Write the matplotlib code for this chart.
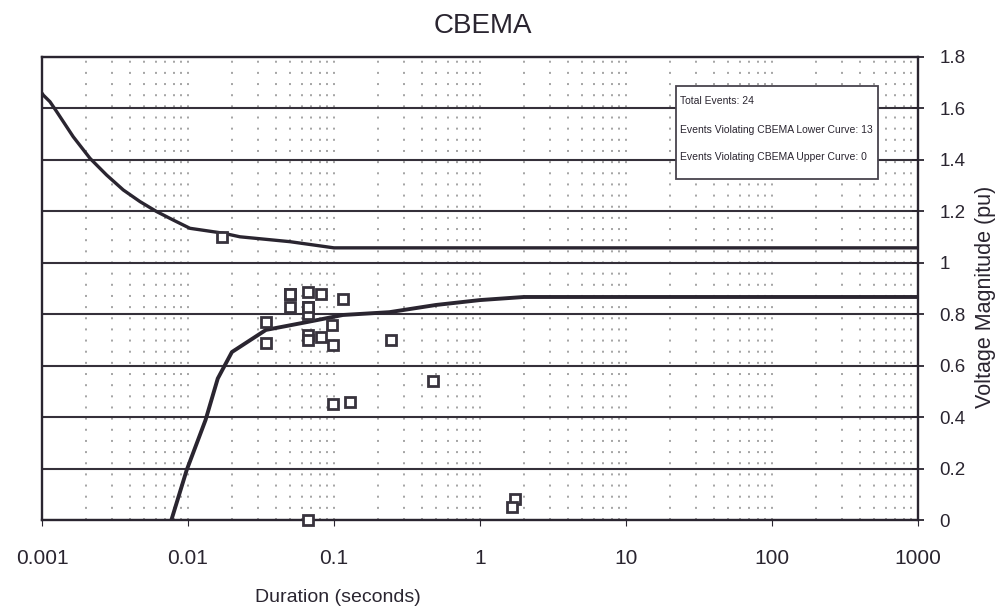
import matplotlib
matplotlib.use("Agg")
import matplotlib.pyplot as plt
from matplotlib.patches import Rectangle
from matplotlib.ticker import LogLocator, NullFormatter
import numpy as np

# CBEMA tolerance envelope (duration in s, voltage in pu)
upper_dur = [0.001, 0.00102, 0.001135, 0.00126, 0.001637, 0.002133, 0.002773, 0.003607,
             0.004688, 0.006103, 0.007935, 0.01032, 0.01745, 0.0227, 0.05, 0.1, 1000]
upper_pu = [1.66, 1.652, 1.626, 1.588, 1.49, 1.406, 1.341, 1.283,
            1.238, 1.199, 1.166, 1.134, 1.115, 1.101, 1.082, 1.058, 1.058]

lower_dur = [0.0077, 0.0098, 0.0132, 0.016, 0.02, 0.0342, 0.066, 0.115, 0.24, 0.5, 1.0, 2.0, 1000]
lower_pu = [0.0, 0.194, 0.389, 0.55, 0.653, 0.739, 0.77, 0.797, 0.808, 0.836, 0.855, 0.867, 0.867]

# Recorded events
event_dur = [0.017, 0.05, 0.066, 0.082, 0.05, 0.066, 0.066, 0.115, 0.034, 0.034,
             0.097, 0.066, 0.066, 0.082, 0.098, 0.244, 0.48, 0.098, 0.129, 1.74,
             1.66, 0.066, 0.05, 0.066]
event_pu = [1.10, 0.88, 0.885, 0.88, 0.83, 0.83, 0.80, 0.86, 0.77, 0.69,
            0.76, 0.72, 0.70, 0.71, 0.68, 0.70, 0.54, 0.45, 0.46, 0.082,
            0.05, 0.0, 0.88, 0.83]

y_ticks = [0, 0.2, 0.4, 0.6, 0.8, 1, 1.2, 1.4, 1.6, 1.8]
y_tick_labels = ["0", "0.2", "0.4", "0.6", "0.8", "1", "1.2", "1.4", "1.6", "1.8"]
x_ticks = [0.001, 0.01, 0.1, 1, 10, 100, 1000]
x_tick_labels = ["0.001", "0.01", "0.1", "1", "10", "100", "1000"]

summary_lines = ["Total Events: 24",
                 "Events Violating CBEMA Lower Curve: 13",
                 "Events Violating CBEMA Upper Curve: 0"]

plt.rcParams['font.family'] = ['Liberation Sans', 'DejaVu Sans']
INK = '#2a2530'

fig = plt.figure(figsize=(10.06, 6.10), dpi=100)
ax = fig.add_axes([0.0417, 0.1475, 0.8708, 0.7591])

ax.set_xscale('log')
ax.set_xlim(0.001, 1000)
ax.set_ylim(0, 1.8)

# dotted vertical grid at every decade step, solid horizontal majors
ax.xaxis.set_minor_locator(LogLocator(base=10, subs=np.arange(2, 10)))
ax.xaxis.set_minor_formatter(NullFormatter())
ax.grid(True, which='both', axis='x', color='#8c8c8c', linestyle=(0, (1.3, 6.0)), linewidth=1.1)
ax.grid(True, which='major', axis='y', color='#35303a', linestyle='-', linewidth=1.5)
ax.set_axisbelow(True)

ax.plot(upper_dur, upper_pu, color=INK, linewidth=2.4, solid_capstyle='butt')
ax.plot(lower_dur, lower_pu, color=INK, linewidth=2.8, solid_capstyle='butt')

ax.plot(event_dur, event_pu, linestyle='none', marker='s', markersize=6.8,
        markerfacecolor='white', markeredgecolor='#38333d', markeredgewidth=2.0,
        clip_on=False, zorder=5)

# axes frame: y axis on the right side
ax.yaxis.tick_right()
ax.set_yticks(y_ticks)
ax.set_yticklabels(y_tick_labels)
ax.set_xticks(x_ticks)
ax.set_xticklabels(x_tick_labels)
ax.tick_params(axis='y', which='major', direction='inout', length=9, width=1.3,
               labelsize=13.5, colors=INK, pad=11)
ax.tick_params(axis='y', which='minor', length=0)
ax.tick_params(axis='x', which='major', direction='out', length=4, width=0.8,
               labelsize=15, colors=INK, pad=17)
ax.tick_params(axis='x', which='minor', length=0)
for side in ['left', 'top', 'right', 'bottom']:
    ax.spines[side].set_color(INK)
    ax.spines[side].set_linewidth(1.7)

fig.text(0.480, 1 - 26 / 610, 'CBEMA', fontsize=20, color=INK, ha='center', va='center')
fig.text(338 / 1006, 1 - 597 / 610, 'Duration (seconds)', fontsize=14, color=INK,
         ha='center', va='center')
fig.text(985 / 1006, 1 - 297 / 610, 'Voltage Magnitude (pu)', fontsize=15.5, color=INK,
         ha='center', va='center', rotation=90)

# event summary box
fig.add_artist(Rectangle((676 / 1006, 1 - 179 / 610), 202 / 1006, 93 / 610,
                         transform=fig.transFigure, facecolor='white',
                         edgecolor='#48434d', linewidth=1.3, zorder=10))
for line, ypix in zip(summary_lines, [101, 130, 157]):
    fig.text(680 / 1006, 1 - ypix / 610, line, fontsize=7.5, color=INK,
             ha='left', va='center', zorder=11)

fig.savefig('out.png', dpi=100, facecolor='white')
